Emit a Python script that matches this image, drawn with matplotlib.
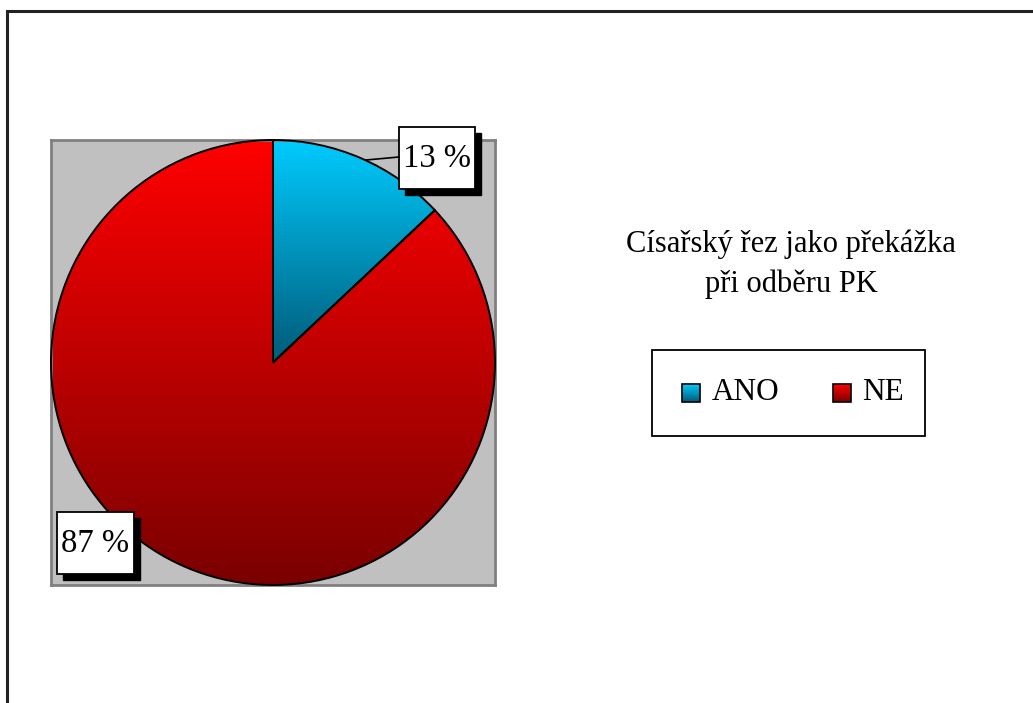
import numpy as np
import matplotlib
matplotlib.use("Agg")
import matplotlib.pyplot as plt
from matplotlib.patches import Rectangle
from matplotlib.colors import LinearSegmentedColormap

categories = ["ANO", "NE"]
values = [13, 87]
title = "Císařský řez jako překážka\npři odběru PK"
top_colors = ["#00CCFF", "#FF0000"]
bottom_colors = ["#005A78", "#7A0000"]

W, H = 1033, 703
fig = plt.figure(figsize=(W / 100, H / 100), dpi=100)
fig.patch.set_facecolor("white")

serif = ["Liberation Serif", "DejaVu Serif"]

def px_rect(x0, y0, x1, y1):
    return [x0 / W, 1 - y1 / H, (x1 - x0) / W, (y1 - y0) / H]

# plot area
ax = fig.add_axes(px_rect(51, 140, 495, 585))
wedges, _ = ax.pie(values, startangle=90, counterclock=False, radius=1.0,
                   wedgeprops=dict(edgecolor="black", linewidth=1.4))
ax.set_frame_on(True)
ax.set_facecolor("#C0C0C0")
for s in ax.spines.values():
    s.set_visible(True)
    s.set_color("#808080")
    s.set_linewidth(2)
ax.set_xticks([]); ax.set_yticks([])

grad = np.linspace(1, 0, 256).reshape(-1, 1)
for w, tc, bc in zip(wedges, top_colors, bottom_colors):
    w.set_facecolor("none")
    w.set_clip_on(False)
    verts = w.get_path().vertices
    y0, y1 = verts[:, 1].min(), verts[:, 1].max()
    x0, x1 = verts[:, 0].min(), verts[:, 0].max()
    cmap = LinearSegmentedColormap.from_list("g", [bc, tc])
    im = ax.imshow(grad, cmap=cmap, extent=(x0, x1, y0, y1), aspect="auto",
                   origin="upper", zorder=0.5, interpolation="bilinear")
    im.set_clip_path(w)
    w.set_zorder(3)
ax.set_xlim(-1.0, 1.0)
ax.set_ylim(-1.0, 1.0)
ax.set_aspect("auto")

# overlay in pixel coordinates
ov = fig.add_axes([0, 0, 1, 1], zorder=5)
ov.axis("off")

# outer frame
ov.plot([7, 7, W + 5], [H + 5, 11, 11], color="#222222", lw=2.2, solid_joinstyle="miter")

def label_box(x0, y0, x1, y1, text):
    ov.add_patch(Rectangle((x0 + 6, y0 + 6), x1 - x0, y1 - y0, facecolor="black",
                           edgecolor="black", lw=1))
    ov.add_patch(Rectangle((x0, y0), x1 - x0, y1 - y0, facecolor="white",
                           edgecolor="black", lw=1.3))
    ov.text((x0 + x1) / 2, (y0 + y1) / 2 + 1, text, ha="center", va="center",
            fontsize=23.5, family=serif)

ov.plot([366, 399], [160, 157], color="black", lw=1.2)
label_box(399, 127, 475, 189, f"{values[0]} %")
label_box(57, 512, 134, 574, f"{values[1]} %")

# title
ov.text(791, 264, title, ha="center", va="center", fontsize=22, family=serif,
        linespacing=1.48)

# legend
ov.add_patch(Rectangle((652, 350), 273, 86, facecolor="white", edgecolor="black", lw=1.3))
legend_items = [(682, 712), (833, 862)]
for (mx, tx), cat, tc, bc in zip(legend_items, categories, top_colors, bottom_colors):
    cmap = LinearSegmentedColormap.from_list("g", [bc, tc])
    ov.imshow(grad, cmap=cmap, extent=(mx, mx + 18, 402, 384), aspect="auto",
              origin="upper", zorder=3)
    ov.add_patch(Rectangle((mx, 384), 18, 18, facecolor="none", edgecolor="black",
                           lw=1.2, zorder=4))
    ov.text(tx, 393, cat, ha="left", va="center", fontsize=22.5, family=serif)
ov.set_xlim(0, W); ov.set_ylim(H, 0)

fig.savefig("out.png", dpi=100)
